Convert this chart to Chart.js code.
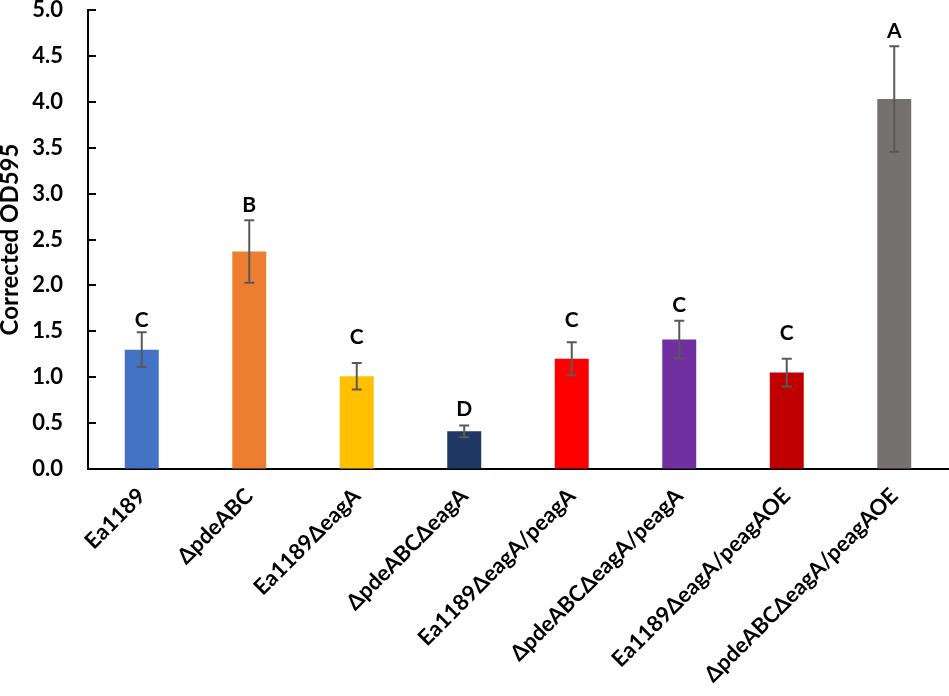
<!DOCTYPE html>
<html><head><meta charset="utf-8">
<script src="https://cdn.jsdelivr.net/npm/chart.js@4"></script>
<style>html,body{margin:0;padding:0;background:#fff}#wrap{width:949px;height:696px;position:relative}</style>
</head><body><div id="wrap"><canvas id="c"></canvas></div>
<script>
const categories = ['Ea1189','ΔpdeABC','Ea1189ΔeagA','ΔpdeABCΔeagA','Ea1189ΔeagA/peagA','ΔpdeABCΔeagA/peagA','Ea1189ΔeagA/peagAOE','ΔpdeABCΔeagA/peagAOE'];
const means = [1.30, 2.37, 1.01, 0.41, 1.20, 1.41, 1.05, 4.03];
const errors = [0.19, 0.34, 0.145, 0.063, 0.18, 0.205, 0.15, 0.575];
const letters = ['C','B','C','D','C','C','C','A'];
const letterY = [1.545, 2.80, 1.36, 0.58, 1.55, 1.705, 1.41, 4.70];
const yTicks = [0, 0.5, 1.0, 1.5, 2.0, 2.5, 3.0, 3.5, 4.0, 4.5, 5.0];
const barColors = ['#4472C4','#ED7D31','#FFC000','#203864','#FF0000','#7030A0','#C00000','#767171'];

const FONT = 'Lato, "Open Sans", sans-serif';

const extras = {
  id: 'extras',
  afterDatasetsDraw(chart) {
    const ctx = chart.ctx, x = chart.scales.x, y = chart.scales.y;
    ctx.save();
    // inward tick marks on y axis
    ctx.strokeStyle = '#000'; ctx.lineWidth = 2;
    yTicks.forEach(v => {
      const py = Math.round(y.getPixelForValue(v));
      ctx.beginPath(); ctx.moveTo(x.left, py); ctx.lineTo(x.left + 8, py); ctx.stroke();
    });
    // error bars
    ctx.strokeStyle = '#595959'; ctx.lineWidth = 2;
    means.forEach((m, i) => {
      const px = x.getPixelForValue(i);
      const top = y.getPixelForValue(m + errors[i]);
      const bot = y.getPixelForValue(m - errors[i]);
      ctx.beginPath();
      ctx.moveTo(px, top); ctx.lineTo(px, bot);
      ctx.moveTo(px - 5, top); ctx.lineTo(px + 5, top);
      ctx.moveTo(px - 5, bot); ctx.lineTo(px + 5, bot);
      ctx.stroke();
    });
    // letters
    ctx.fillStyle = '#000';
    ctx.font = 'bold 21px ' + FONT;
    ctx.textAlign = 'center'; ctx.textBaseline = 'alphabetic';
    letters.forEach((t, i) => {
      ctx.fillText(t, x.getPixelForValue(i), y.getPixelForValue(letterY[i]));
    });
    ctx.restore();
  }
};

new Chart(document.getElementById('c'), {
  type: 'bar',
  data: {
    labels: categories,
    datasets: [{ data: means, backgroundColor: barColors, borderWidth: 0,
      categoryPercentage: 1.0, barPercentage: 0.316 }]
  },
  options: {
    responsive: true, maintainAspectRatio: false, animation: false,
    layout: { padding: { top: 10, right: 1, left: 0, bottom: 0 } },
    plugins: { legend: { display: false }, tooltip: { enabled: false } },
    scales: {
      x: {
        grid: { display: true, drawOnChartArea: false, drawTicks: false },
        border: { display: true, color: '#000', width: 2 },
        ticks: { color: '#000', font: { family: FONT, size: 22, weight: 'bold' },
          minRotation: 45, maxRotation: 45, padding: 14, autoSkip: false },
        afterFit(s) { s.height = 227; s.paddingLeft = 0; s.paddingRight = 0; }
      },
      y: {
        min: 0, max: 5,
        grid: { display: true, drawOnChartArea: false, drawTicks: false },
        border: { display: true, color: '#000', width: 2 },
        afterBuildTicks(s) { s.ticks = yTicks.map(v => ({ value: v })); },
        ticks: { color: '#000', font: { family: FONT, size: 22, weight: 'bold' }, padding: 25,
          callback: v => Number(v).toFixed(1) },
        title: { display: true, text: 'Corrected OD595', color: '#000',
          font: { family: FONT, size: 24, weight: 'bold', lineHeight: 0.85 }, padding: { top: 0, bottom: 0 } },
        afterFit(s) { s.width = 88; s.paddingTop = 0; s.paddingBottom = 0; }
      }
    }
  },
  plugins: [extras]
});
</script></body></html>
